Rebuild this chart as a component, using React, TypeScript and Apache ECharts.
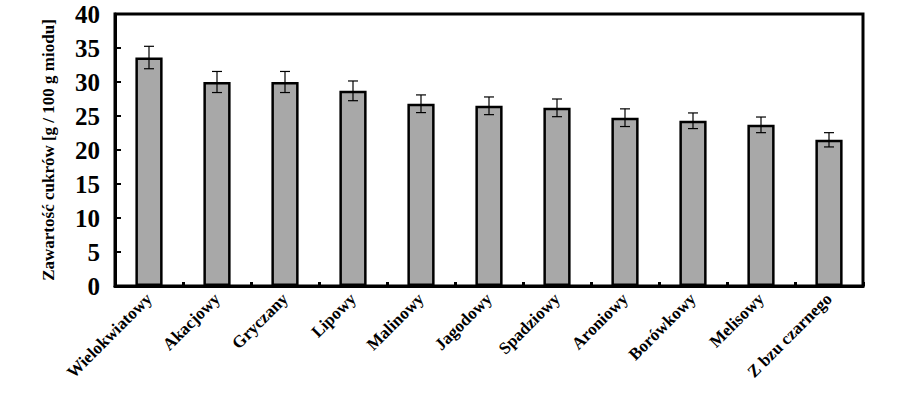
import React, { useEffect, useRef } from "react";
import * as echarts from "echarts";

const categories = [
  "Wielokwiatowy",
  "Akacjowy",
  "Gryczany",
  "Lipowy",
  "Malinowy",
  "Jagodowy",
  "Spadziowy",
  "Aroniowy",
  "Borówkowy",
  "Melisowy",
  "Z bzu czarnego",
];
const sugarValues = [33.6, 30.0, 30.0, 28.7, 26.8, 26.5, 26.2, 24.75, 24.3, 23.7, 21.5];
const sugarErrors = [1.65, 1.55, 1.55, 1.45, 1.3, 1.3, 1.3, 1.3, 1.15, 1.15, 1.05];
const yTicks = [0, 5, 10, 15, 20, 25, 30, 35, 40];
const yAxisName = "Zawartość cukrów [g / 100 g miodu]";

const FONT = "Liberation Serif";

export default function App() {
  const ref = useRef<HTMLDivElement>(null);
  useEffect(() => {
    if (!ref.current) return;
    const chart = echarts.init(ref.current, null, { renderer: "svg" });
    const errData = sugarValues.map((v, i) => [i, v - sugarErrors[i], v + sugarErrors[i]]);
    chart.setOption({
      animation: false,
      textStyle: { fontFamily: FONT },
      grid: {
        left: 115,
        right: 41,
        top: 14,
        bottom: 108,
        show: true,
        borderColor: "#000",
        borderWidth: 3,
      },
      xAxis: {
        type: "category",
        data: categories,
        axisLine: { lineStyle: { color: "#000", width: 3 } },
        axisTick: { show: true, inside: true, length: 4, lineStyle: { color: "#000", width: 3 } },
        axisLabel: {
          interval: 0,
          rotate: 45,
          margin: 10,
          fontFamily: FONT,
          fontWeight: "bold",
          fontSize: 17,
          color: "#000",
        },
        splitLine: { show: false },
      },
      yAxis: {
        type: "value",
        min: yTicks[0],
        max: yTicks[yTicks.length - 1],
        interval: 5,
        name: yAxisName,
        nameLocation: "middle",
        nameGap: 58,
        nameTextStyle: { fontFamily: FONT, fontWeight: "bold", fontSize: 17, color: "#000" },
        axisLine: { show: true, lineStyle: { color: "#000", width: 3 } },
        axisTick: { show: true, inside: true, length: 6, lineStyle: { color: "#000", width: 2 } },
        axisLabel: {
          margin: 15,
          fontFamily: FONT,
          fontWeight: "bold",
          fontSize: 25,
          color: "#000",
        },
        splitLine: { show: false },
      },
      series: [
        {
          type: "bar",
          data: sugarValues,
          barWidth: "40%",
          itemStyle: { color: "#a8a8a8", borderColor: "#000", borderWidth: 2.5 },
        },
        {
          type: "custom",
          data: errData,
          encode: { x: 0, y: [1, 2] },
          z: 10,
          renderItem: (params: any, api: any) => {
            const i = api.value(0);
            const lo = api.coord([i, api.value(1)]);
            const hi = api.coord([i, api.value(2)]);
            const hw = 5;
            const style = { stroke: "#000", lineWidth: 1.2 };
            return {
              type: "group",
              children: [
                { type: "line", shape: { x1: hi[0], y1: hi[1], x2: lo[0], y2: lo[1] }, style },
                { type: "line", shape: { x1: hi[0] - hw, y1: hi[1], x2: hi[0] + hw, y2: hi[1] }, style },
                { type: "line", shape: { x1: lo[0] - hw, y1: lo[1], x2: lo[0] + hw, y2: lo[1] }, style },
              ],
            };
          },
        },
      ],
    });
    return () => chart.dispose();
  }, []);
  return <div ref={ref} style={{ width: 904, height: 394, position: "absolute", left: 0, top: 0 }} />;
}
